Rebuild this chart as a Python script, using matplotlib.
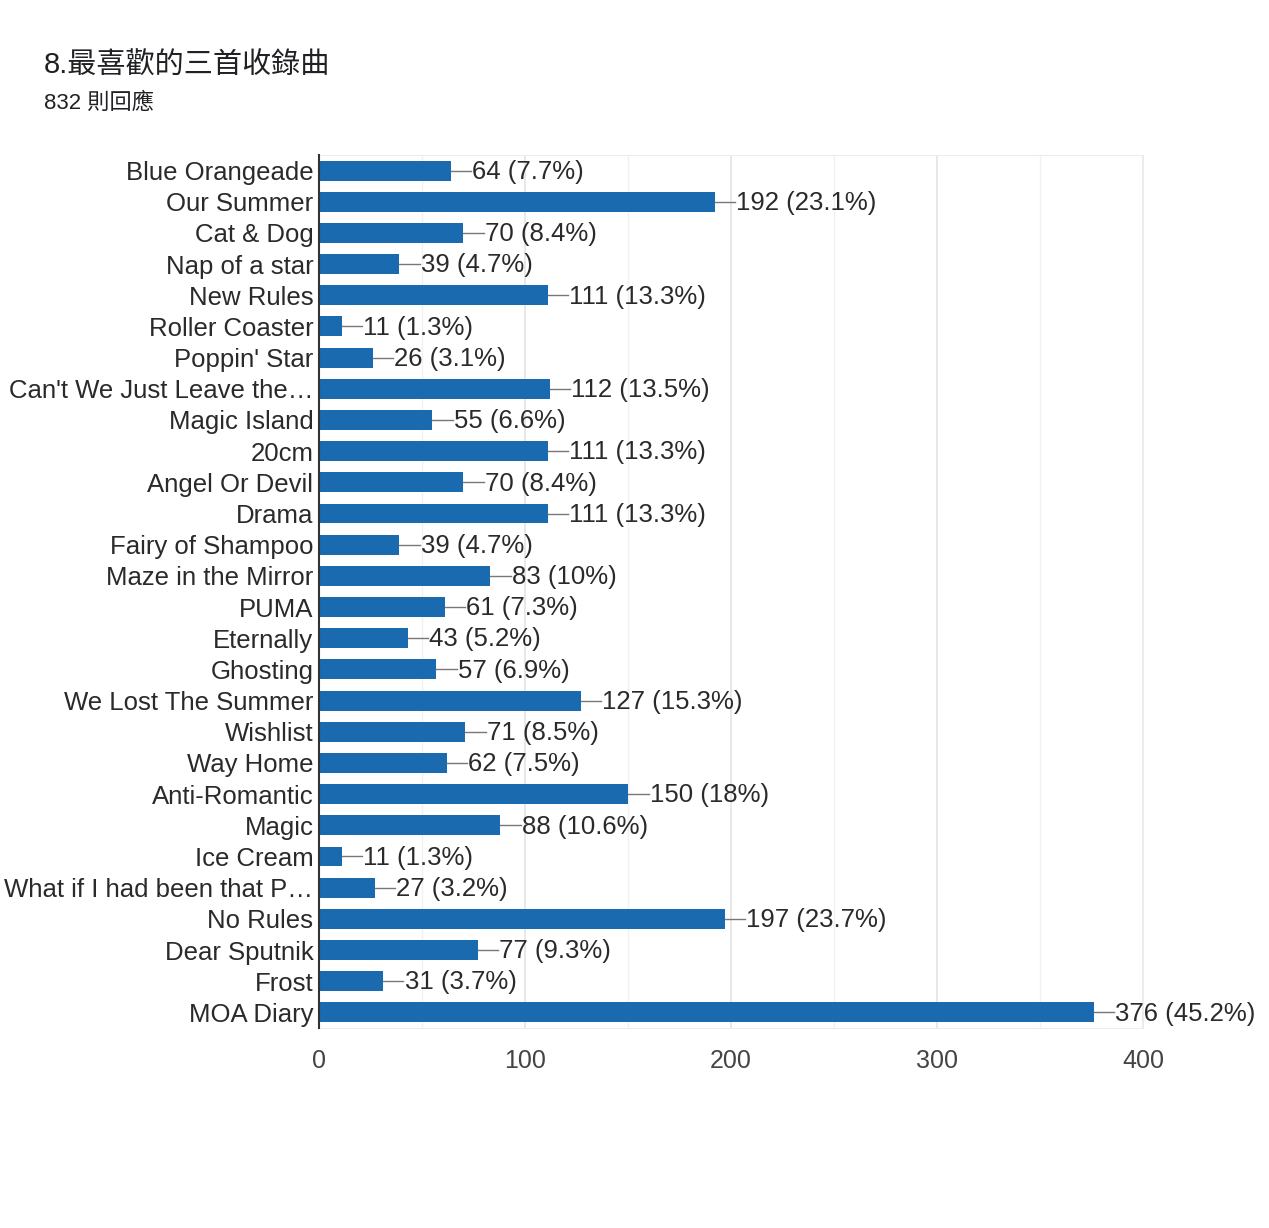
import numpy as np
import matplotlib
matplotlib.use('Agg')
import matplotlib.pyplot as plt

plt.rcParams['font.family'] = ['Liberation Sans', 'Noto Sans CJK TC', 'DejaVu Sans']

songs = ['Blue Orangeade', 'Our Summer', 'Cat & Dog', 'Nap of a star', 'New Rules',
         'Roller Coaster', "Poppin' Star", "Can't We Just Leave the\u2026", 'Magic Island',
         '20cm', 'Angel Or Devil', 'Drama', 'Fairy of Shampoo', 'Maze in the Mirror',
         'PUMA', 'Eternally', 'Ghosting', 'We Lost The Summer', 'Wishlist', 'Way Home',
         'Anti-Romantic', 'Magic', 'Ice Cream', 'What if I had been that P\u2026',
         'No Rules', 'Dear Sputnik', 'Frost', 'MOA Diary']
counts = [64, 192, 70, 39, 111, 11, 26, 112, 55, 111, 70, 111, 39, 83, 61, 43, 57,
          127, 71, 62, 150, 88, 11, 27, 197, 77, 31, 376]
pcts = ['7.7%', '23.1%', '8.4%', '4.7%', '13.3%', '1.3%', '3.1%', '13.5%', '6.6%',
        '13.3%', '8.4%', '13.3%', '4.7%', '10%', '7.3%', '5.2%', '6.9%', '15.3%',
        '8.5%', '7.5%', '18%', '10.6%', '1.3%', '3.2%', '23.7%', '9.3%', '3.7%', '45.2%']
xticks = [0, 100, 200, 300, 400]

fig = plt.figure(figsize=(12.69, 12.28), dpi=100)
ax = fig.add_axes([0.2514, 0.1629, 0.6493, 0.7109])

y = np.arange(len(songs))
ax.barh(y, counts, height=0.64, color='#1a6aaf', zorder=3)

for yi, c, p in zip(y, counts, pcts):
    ax.plot([c, c + 10], [yi, yi], color='#777777', lw=1, zorder=3, clip_on=False)
    ax.text(c + 10.5, yi + 0.04, f'{c} ({p})', va='center', ha='left', fontsize=18.5,
            color='#2a2a2a')

ax.set_xlim(0, 400)
ax.set_ylim(len(songs) - 0.5, -0.5)
ax.set_yticks(y)
ax.set_yticklabels(songs, fontsize=18.5, color='#2a2a2a')
ax.set_xticks(xticks)
ax.set_xticklabels([str(t) for t in xticks], fontsize=18, color='#444444')
ax.set_xticks(np.arange(50, 400, 100), minor=True)
ax.tick_params(axis='both', which='both', length=0)
ax.tick_params(axis='x', pad=15)
ax.tick_params(axis='y', pad=4)
ax.grid(axis='x', which='major', color='#e4e4e4', lw=1.2, zorder=0)
ax.grid(axis='x', which='minor', color='#f1f1f1', lw=1, zorder=0)
for s in ['top', 'right', 'bottom']:
    ax.spines[s].set_color('#ededed')
ax.spines['left'].set_color('#333333')
ax.spines['left'].set_linewidth(1.5)
ax.spines['left'].set_zorder(4)

fig.text(44 / 1269, 1 - 65 / 1228, '8.最喜歡的三首收錄曲', fontsize=21, color='#202124',
         va='center', ha='left')
fig.text(44 / 1269, 1 - 103 / 1228, '832 則回應', fontsize=16, color='#202124',
         va='center', ha='left')

fig.savefig('out.png', dpi=100, facecolor='white')
